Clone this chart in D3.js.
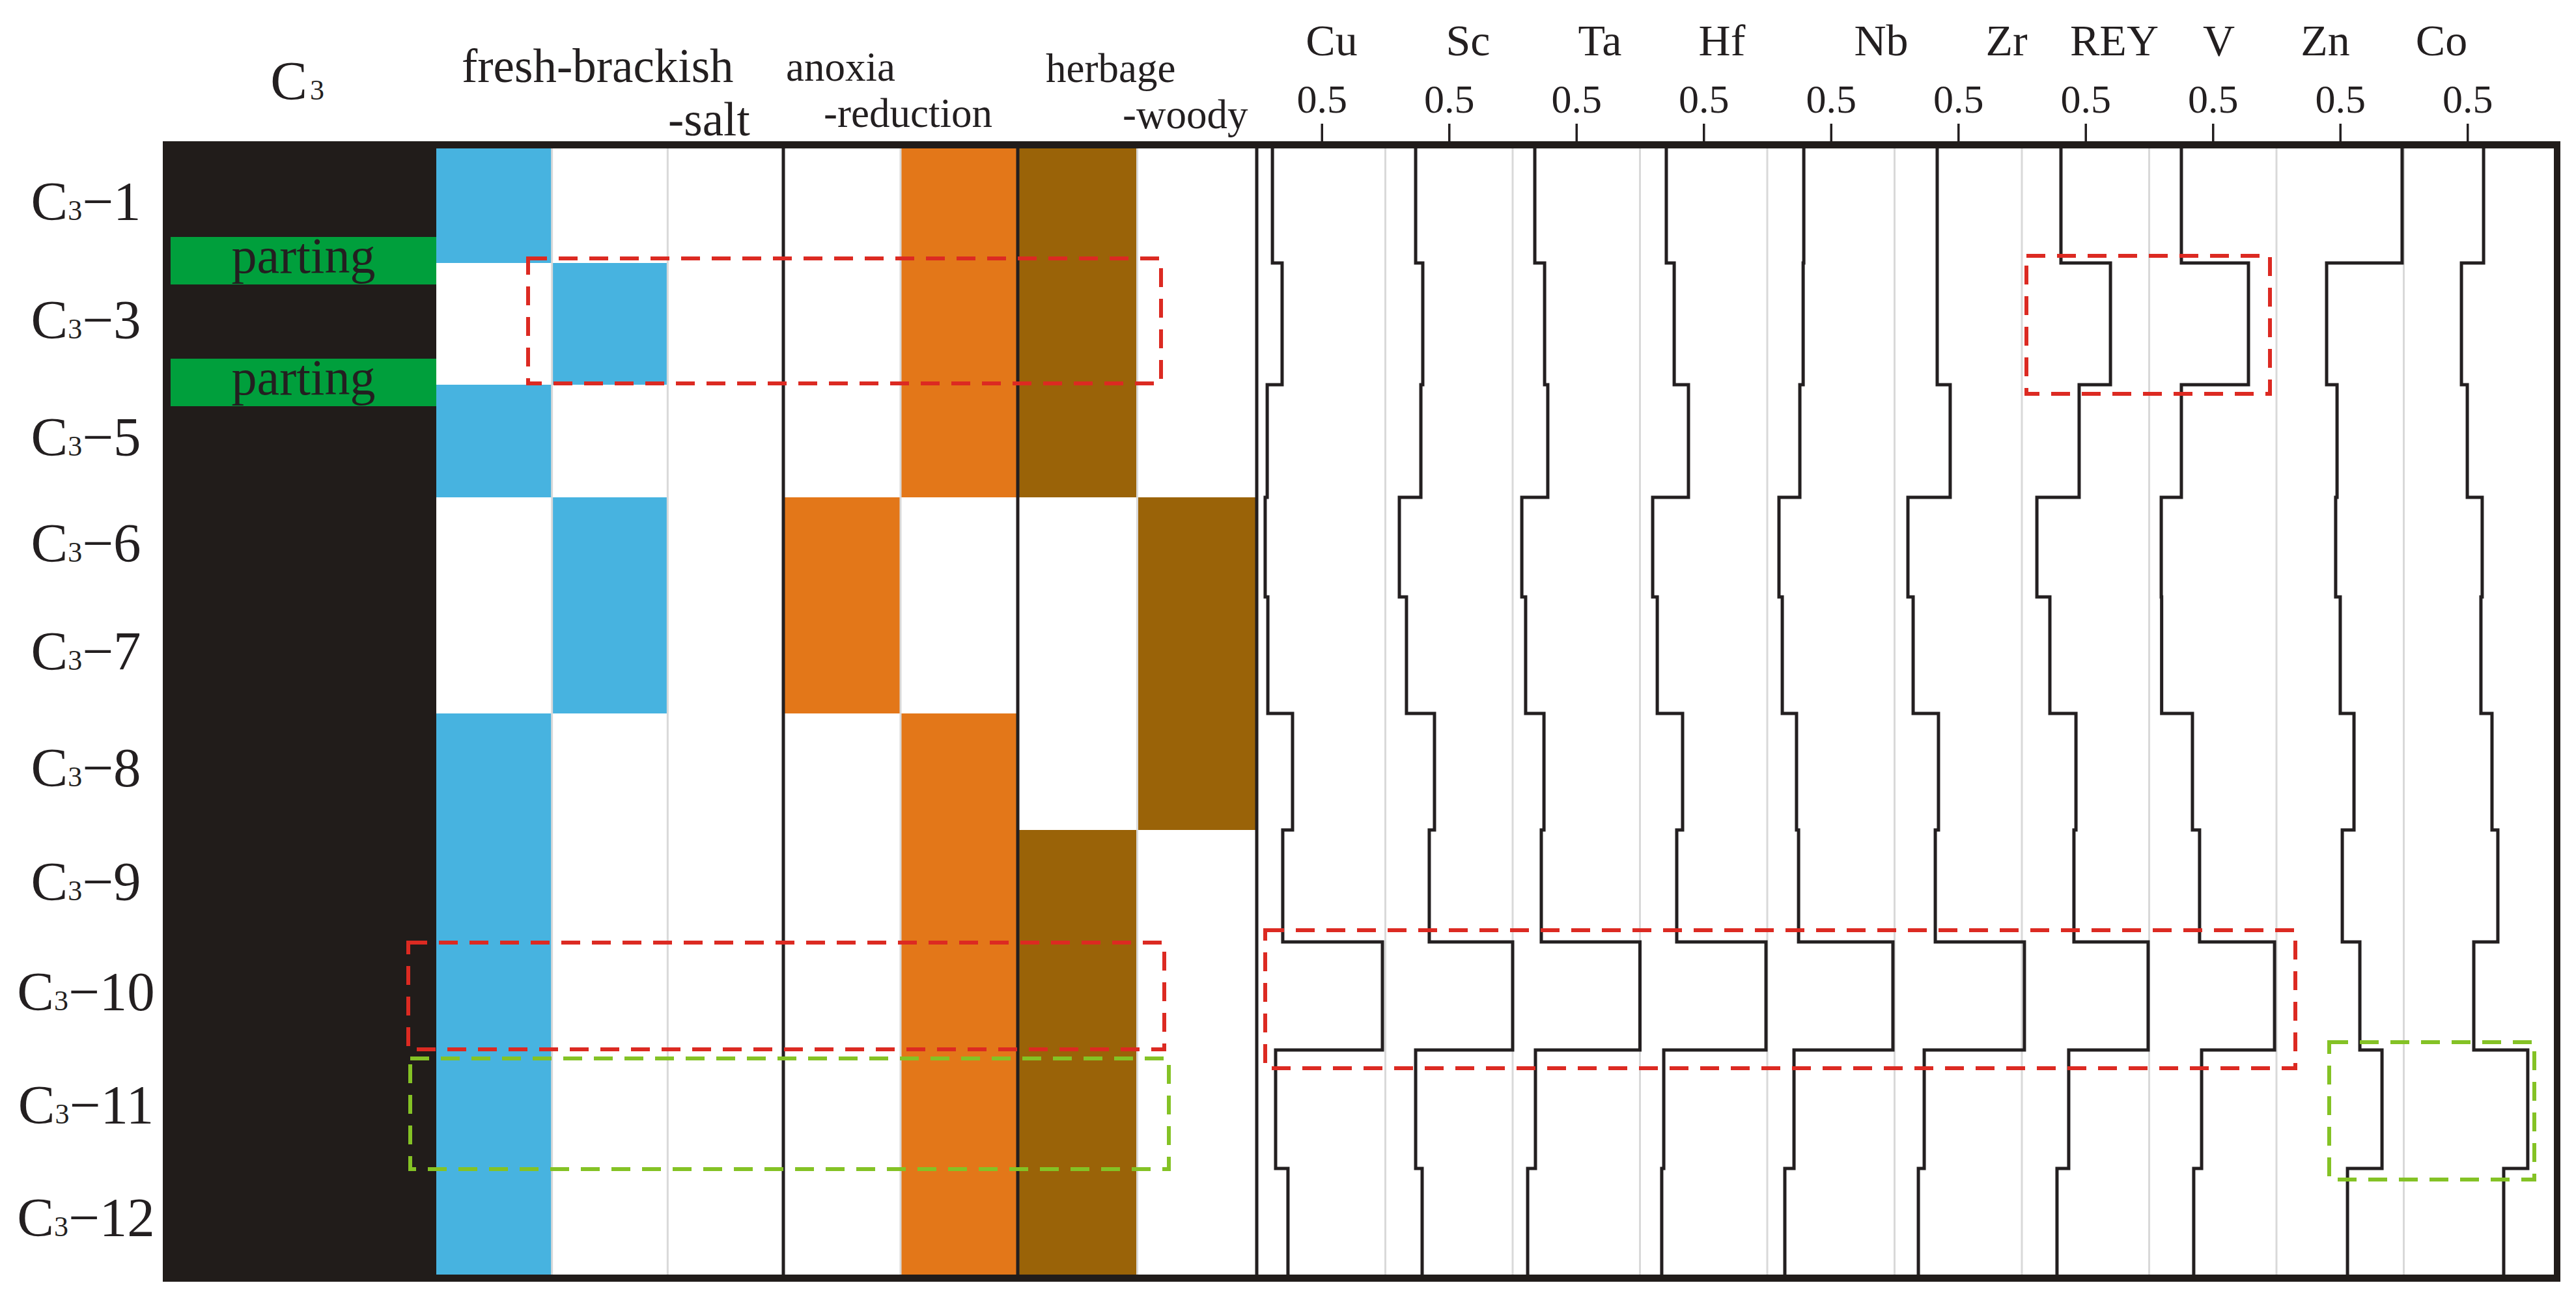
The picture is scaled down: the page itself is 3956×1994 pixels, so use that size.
<!DOCTYPE html>
<html>
<head>
<meta charset="utf-8">
<script src="https://d3js.org/d3.v7.min.js"></script>
<style>
  body { margin: 0; background: #fff; overflow: hidden; }
  text { font-family: "Liberation Serif", "Times New Roman", serif; fill: #231f20; }
</style>
</head>
<body>
<div id="chart"></div>
<script>
    // Data
    // ==============================

    // samples of seam C3, top to bottom
    var sampleNo = [1, 3, 5, 6, 7, 8, 9, 10, 11, 12];
    // relative thickness of every sample interval
    var thickness = [176, 187, 173, 153, 179, 179, 172, 166, 182, 163];
    // a parting sits right below these samples
    var partingBelow = [1, 3];

    // facies: which sub-column is filled for each sample
    var salinityClass = ["fresh", "brackish", "salt"];
    var salinity = [0, 1, 0, 1, 1, 0, 0, 0, 0, 0];
    var redoxClass = ["anoxia", "reduction"];
    var redox = [1, 1, 1, 0, 0, 1, 1, 1, 1, 1];
    var plantClass = ["herbage", "woody"];
    var plant = [0, 0, 0, 1, 1, 1, 0, 0, 0, 0];

    // normalised element contents (0 - 1)
    var elements = ["Cu", "Sc", "Ta", "Hf", "Nb", "Zr", "REY", "V", "Zn", "Co"];
    var cu = [0.113, 0.189, 0.072, 0.056, 0.077, 0.271, 0.194, 0.977, 0.138, 0.235];
    var sc = [0.238, 0.294, 0.279, 0.110, 0.166, 0.386, 0.345, 1.000, 0.238, 0.289];
    var ta = [0.174, 0.251, 0.276, 0.072, 0.102, 0.246, 0.225, 1.000, 0.179, 0.118];
    var hf = [0.207, 0.269, 0.381, 0.100, 0.136, 0.335, 0.289, 0.990, 0.187, 0.171];
    var nb = [0.287, 0.282, 0.256, 0.092, 0.118, 0.230, 0.246, 0.987, 0.210, 0.138];
    var zr = [0.335, 0.335, 0.437, 0.105, 0.146, 0.345, 0.320, 1.020, 0.233, 0.187];
    var rey = [0.307, 0.696, 0.450, 0.118, 0.220, 0.425, 0.409, 0.992, 0.368, 0.276];
    var v = [0.253, 0.780, 0.253, 0.095, 0.098, 0.340, 0.396, 0.985, 0.412, 0.350];
    var zn = [0.987, 0.394, 0.476, 0.465, 0.501, 0.609, 0.517, 0.655, 0.829, 0.558];
    var co = [0.627, 0.453, 0.499, 0.616, 0.606, 0.693, 0.739, 0.550, 0.974, 0.785];
    var elementValues = [cu, sc, ta, hf, nb, zr, rey, v, zn, co];

    var tickValues = [0.5];

    // Layout
    // ==============================
    var svgWidth = 3956;
    var svgHeight = 1994;

    var plotTop = 228;
    var plotBottom = 1958;
    var frameLeft = 250;
    var frameRight = 3932;
    var coalRight = 670;
    var elemLeft = 1932;
    var elemWidth = 195.5;

    var ink = "#231f20";
    var coalColor = "#211c1a";
    var red = "#dc2a22";
    var green = "#84c225";

    // shift of the element name from the column's left edge
    var headerShift = [113, 127, 134, 126, 175, 172, 142, 107, 75, 58];

    var svg = d3.select("#chart")
        .append("svg")
        .attr("width", svgWidth)
        .attr("height", svgHeight);

    svg.append("rect")
        .attr("width", svgWidth)
        .attr("height", svgHeight)
        .attr("fill", "#fff");

    // Step 1: depth scale
    // ==============================
    var depth = [0];
    thickness.forEach(function(t, i) {
        depth.push(depth[i] + t);
    });

    var yScale = d3.scaleLinear()
        .domain([0, d3.sum(thickness)])
        .range([plotTop, plotBottom]);

    var rows = sampleNo.map(function(n, i) {
        return { no: n, i: i, top: depth[i], bottom: depth[i + 1] };
    });

    // merge neighbouring samples with the same facies into one block
    function runs(values) {
        var out = [];
        values.forEach(function(val, i) {
            var last = out[out.length - 1];
            if (last && last.value === val) {
                last.bottom = depth[i + 1];
            } else {
                out.push({ value: val, top: depth[i], bottom: depth[i + 1] });
            }
        });
        return out;
    }

    // Step 2: facies columns
    // ==============================
    var faciesGroups = [
        { classes: salinityClass, values: salinity, x0: coalRight, x1: 1203, color: "#47b3e0" },
        { classes: redoxClass, values: redox, x0: 1203, x1: 1563, color: "#e37719" },
        { classes: plantClass, values: plant, x0: 1563, x1: 1930, color: "#9a6308" }
    ];

    faciesGroups.forEach(function(g) {
        var sub = d3.scaleBand()
            .domain(d3.range(g.classes.length))
            .range([g.x0, g.x1]);

        svg.append("g")
            .selectAll("rect")
            .data(runs(g.values))
            .enter()
            .append("rect")
            .attr("x", d => sub(d.value))
            .attr("y", d => yScale(d.top))
            .attr("width", sub.bandwidth())
            .attr("height", d => yScale(d.bottom) - yScale(d.top))
            .attr("fill", g.color);

        svg.append("g")
            .selectAll("line")
            .data(d3.range(1, g.classes.length))
            .enter()
            .append("line")
            .attr("x1", d => sub(d))
            .attr("x2", d => sub(d))
            .attr("y1", plotTop)
            .attr("y2", plotBottom)
            .attr("stroke", "#d9d9d9")
            .attr("stroke-width", 3);
    });

    // Step 3: element columns
    // ==============================
    var colX = d3.scaleBand()
        .domain(elements)
        .range([elemLeft, elemLeft + elemWidth * elements.length]);

    var valueX = d3.scaleLinear()
        .domain([0, 1])
        .range([0, colX.bandwidth()]);

    svg.append("g")
        .selectAll("line")
        .data(elements.slice(1))
        .enter()
        .append("line")
        .attr("x1", d => colX(d))
        .attr("x2", d => colX(d))
        .attr("y1", plotTop)
        .attr("y2", plotBottom)
        .attr("stroke", "#d9d9d9")
        .attr("stroke-width", 3);

    // black group dividers
    svg.append("g")
        .selectAll("line")
        .data([1203, 1563, 1930])
        .enter()
        .append("line")
        .attr("x1", d => d)
        .attr("x2", d => d)
        .attr("y1", plotTop)
        .attr("y2", plotBottom)
        .attr("stroke", ink)
        .attr("stroke-width", 5);

    var stepLine = d3.line()
        .x(d => valueX(d.v))
        .y(d => yScale(d.depth));

    elements.forEach(function(el, k) {
        var pts = [];
        elementValues[k].forEach(function(val, i) {
            pts.push({ v: val, depth: depth[i] }, { v: val, depth: depth[i + 1] });
        });

        var col = svg.append("g")
            .attr("transform", `translate(${colX(el)}, 0)`);

        col.append("path")
            .datum(pts)
            .attr("d", stepLine)
            .attr("fill", "none")
            .attr("stroke", ink)
            .attr("stroke-width", 5)
            .attr("stroke-linejoin", "miter");

        var axis = col.append("g")
            .attr("transform", "translate(0, 217)")
            .call(d3.axisTop(valueX)
                .tickValues(tickValues)
                .tickSize(27)
                .tickPadding(17)
                .tickFormat(d3.format(".1f")));

        axis.select(".domain").remove();
        axis.selectAll("line").attr("stroke", ink).attr("stroke-width", 3.5);
        axis.selectAll("text")
            .style("font-family", "'Liberation Serif', 'Times New Roman', serif")
            .style("font-size", "62px");

        col.append("text")
            .attr("x", headerShift[k])
            .attr("y", 85)
            .attr("text-anchor", "middle")
            .style("font-size", "68px")
            .text(el);
    });

    // Step 4: coal column with partings
    // ==============================
    svg.append("rect")
        .attr("x", frameLeft)
        .attr("y", 217)
        .attr("width", coalRight - frameLeft)
        .attr("height", 1969 - 217)
        .attr("fill", coalColor);

    var partings = svg.append("g")
        .selectAll("g")
        .data(partingBelow)
        .enter()
        .append("g")
        .attr("transform", d => `translate(0, ${yScale(depth[sampleNo.indexOf(d) + 1])})`);

    partings.append("rect")
        .attr("x", 262)
        .attr("y", -40)
        .attr("width", coalRight - 262)
        .attr("height", 73)
        .attr("fill", "#009f3c");

    partings.append("text")
        .attr("x", 466)
        .attr("y", 15)
        .attr("text-anchor", "middle")
        .style("font-size", "78px")
        .text("parting");

    // Step 5: highlight boxes
    // ==============================
    var highlights = [
        { sample: 3, x0: 811, x1: 1783, padTop: 7, padBottom: -2, color: red },
        { sample: 3, x0: 3112, x1: 3486, padTop: 11, padBottom: 14, color: red },
        { sample: 10, x0: 627, x1: 1788, padTop: -1, padBottom: -1, color: red },
        { sample: 11, x0: 630, x1: 1795, padTop: -13, padBottom: 1, color: green },
        { sample: 10, x0: 1943, x1: 3525, padTop: 18, padBottom: 28, color: red },
        { sample: 11, x0: 3577, x1: 3892, padTop: 12, padBottom: 17, color: green }
    ];

    svg.append("g")
        .selectAll("rect")
        .data(highlights)
        .enter()
        .append("rect")
        .attr("x", d => d.x0)
        .attr("y", d => yScale(rows[sampleNo.indexOf(d.sample)].top) - d.padTop)
        .attr("width", d => d.x1 - d.x0)
        .attr("height", d => {
            var r = rows[sampleNo.indexOf(d.sample)];
            return yScale(r.bottom) - yScale(r.top) + d.padTop + d.padBottom;
        })
        .attr("fill", "none")
        .attr("stroke", d => d.color)
        .attr("stroke-width", 6)
        .attr("stroke-dasharray", "29 18");

    // Step 6: frame
    // ==============================
    svg.append("rect")
        .attr("x", frameLeft).attr("y", 217)
        .attr("width", frameRight - frameLeft).attr("height", 11)
        .attr("fill", coalColor);

    svg.append("rect")
        .attr("x", frameLeft).attr("y", plotBottom)
        .attr("width", frameRight - frameLeft).attr("height", 11)
        .attr("fill", coalColor);

    svg.append("rect")
        .attr("x", frameRight - 10).attr("y", 217)
        .attr("width", 10).attr("height", 1969 - 217)
        .attr("fill", coalColor);

    // Step 7: labels
    // ==============================
    var rowLabels = svg.append("g")
        .selectAll("text")
        .data(rows)
        .enter()
        .append("text")
        .attr("x", 132)
        .attr("y", d => (yScale(d.top) + yScale(d.bottom)) / 2 + 22)
        .attr("text-anchor", "middle")
        .style("font-size", "85px");

    rowLabels.append("tspan").text("C");
    rowLabels.append("tspan").style("font-size", "44px").text("3");
    rowLabels.append("tspan").text(d => "\u2212" + d.no);

    // seam title: "C" and the small "3" side by side
    svg.append("text")
        .attr("x", 472)
        .attr("y", 153)
        .attr("text-anchor", "end")
        .style("font-size", "85px")
        .text("C");

    svg.append("text")
        .attr("x", 476)
        .attr("y", 153)
        .attr("text-anchor", "start")
        .style("font-size", "44px")
        .text("3");

    // two-line facies headers, second line indented to the right
    var faciesHeaders = [
        { t: "fresh-brackish", x: 709, y: 126, size: 73 },
        { t: "-salt", x: 1026, y: 208, size: 73 },
        { t: "anoxia", x: 1207, y: 124, size: 63 },
        { t: "-reduction", x: 1265, y: 195, size: 63 },
        { t: "herbage", x: 1606, y: 126, size: 63 },
        { t: "-woody", x: 1724, y: 197, size: 63 }
    ];

    svg.append("g")
        .selectAll("text")
        .data(faciesHeaders)
        .enter()
        .append("text")
        .attr("x", d => d.x)
        .attr("y", d => d.y)
        .style("font-size", d => d.size + "px")
        .text(d => d.t);
</script>
</body>
</html>
